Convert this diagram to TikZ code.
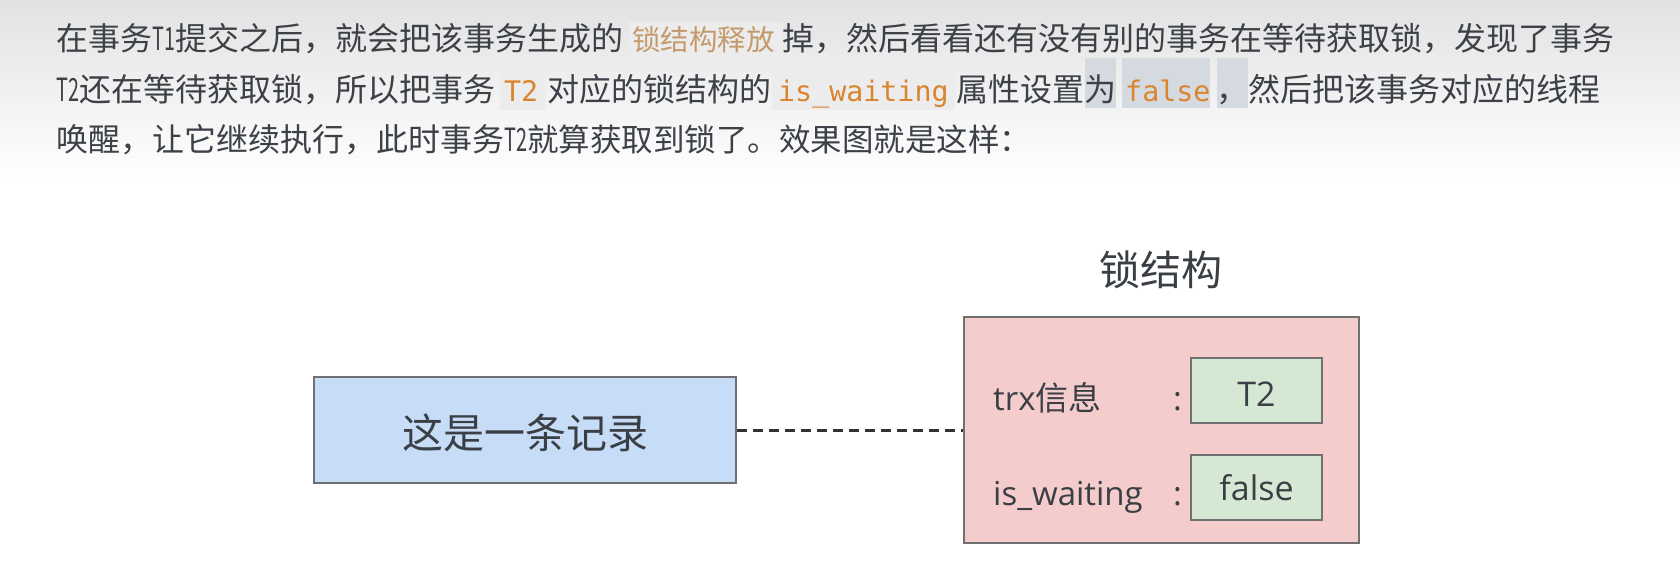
\documentclass[tikz,border=0pt]{standalone}
\usepackage{fontspec}
\newfontfamily\cjkf{Noto Sans CJK SC}
\newfontfamily\monof{DejaVu Sans Mono}
\newfontfamily\latf{Open Sans}
\usetikzlibrary{positioning}
\definecolor{txtc}{HTML}{3C4047}
\definecolor{tanc}{HTML}{C49A6C}
\definecolor{codec}{HTML}{D9852F}
\definecolor{hlc}{HTML}{D5DAE0}
\definecolor{codebg}{HTML}{ECECEC}
\definecolor{bluef}{HTML}{C6DCF7}
\definecolor{pinkf}{HTML}{F4CCCC}
\definecolor{greenf}{HTML}{D5E8D4}
\definecolor{bordc}{HTML}{707070}
\definecolor{dtxt}{HTML}{3A3F45}
\newcommand\mybody{\cjkf\fontsize{32}{36}\selectfont}
\newcommand\mycode{\monof\fontsize{28.3}{34}\selectfont}
\newcommand\narw[1]{\scalebox{0.62}[1]{#1}}
\newcommand\lowr[2]{\raisebox{-#1}[\height][\depth]{#2}}
\tikzset{
  txt/.style={anchor=base west, inner sep=0, text=txtc, font=\mybody},
  codetxt/.style={anchor=base west, inner sep=0, text=codec, font=\mycode},
  tantxt/.style={anchor=base west, inner sep=0, text=tanc, font=\cjkf\fontsize{28.5}{34}\selectfont},
  codebox/.style={fill=codebg, draw=none},
  hlbox/.style={fill=hlc, draw=none},
  rbox/.style={draw=bordc, line width=2pt, inner sep=0},
  lbl/.style={anchor=base west, inner sep=0, text=dtxt, font=\latf\fontsize{33}{40}\selectfont},
  dashline/.style={draw=black!80, line width=3pt, dash pattern=on 10pt off 6pt},
}
\begin{document}
\begin{tikzpicture}[x=1pt, y=-1pt]
\useasboundingbox (0,0) rectangle (1680,571);
\fill[white] (0,0) rectangle (1680,571);
\shade[top color={rgb,255:red,226;green,226;blue,226}, bottom color=white] (0,0) rectangle (1680,180);
% inline code backgrounds and highlights
\path[codebox] (629,22) rectangle (783,60);
\path[codebox] (500,72) rectangle (546,110);
\path[codebox] (772,72) rectangle (955,110);
\path[hlbox] (1085,58) rectangle (1116,108);
\path[hlbox] (1122,58) rectangle (1210,108);
\path[hlbox] (1217,58) rectangle (1248,108);
% line 1
\node[txt] (l1a) at (56,50) {在事务\narw{T1}提交之后，就会把该事务生成的};
\node[tantxt] (l1b) at (632,50) {锁结构释放};
\node[txt] (l1c) at (782,50) {掉，然后看看还有没有别的事务在等待获取锁，发现了事务};
% line 2
\node[txt] (l2a) at (56,101) {\narw{T2}还在等待获取锁，所以把事务};
\node[codetxt] (l2b) at (504,101) {T2};
\node[txt] (l2c) at (547,101) {对应的锁结构的};
\node[codetxt] (l2d) at (778,101) {is\_waiting};
\node[txt] (l2e) at (956,101) {属性设置为};
\node[codetxt] (l2f) at (1125,101) {false};
\node[txt] (l2g) at (1216,101) {，};
\node[txt] (l2h) at (1248,101) {然后把该事务对应的线程};
% line 3
\node[txt] (l3a) at (56,151) {唤醒，让它继续执行，此时事务\narw{T2}};
\node[txt, font=\cjkf\fontsize{31.5}{36}\selectfont] (l3b) at (527,151) {就算获取到锁了。效果图就是这样：};
% diagram
\node[anchor=base, inner sep=0, text=dtxt, font=\cjkf\fontsize{41}{48}\selectfont] (title) at (1161,285) {锁结构};
\node[rbox, fill=bluef, minimum width=422pt, minimum height=106pt, text=dtxt, font=\cjkf\fontsize{41}{48}\selectfont] (rec) at (525,430) {\lowr{3pt}{这是一条记录}};
\node[rbox, fill=pinkf, minimum width=395pt, minimum height=226pt] (lock) at (1161.5,430) {};
\node[rbox, fill=greenf, minimum width=131pt, minimum height=65pt, text=dtxt, font=\latf\fontsize{34}{40}\selectfont] (t2) at (1256.5,390.5) {\lowr{4pt}{T2}};
\node[rbox, fill=greenf, minimum width=131pt, minimum height=65pt, text=dtxt, font=\latf\fontsize{34}{40}\selectfont] (fv) at (1256.5,487.5) {false};
\node[lbl] (trx) at (993,410) {trx{\cjkf 信息}};
\node[lbl] (isw) at (993,505) {is\_waiting};
\node[lbl] (c1) at (1173,410) {:};
\node[lbl] (c2) at (1173,505) {:};
\draw[dashline] (rec.east) -- (lock.west);
\end{tikzpicture}
\end{document}
